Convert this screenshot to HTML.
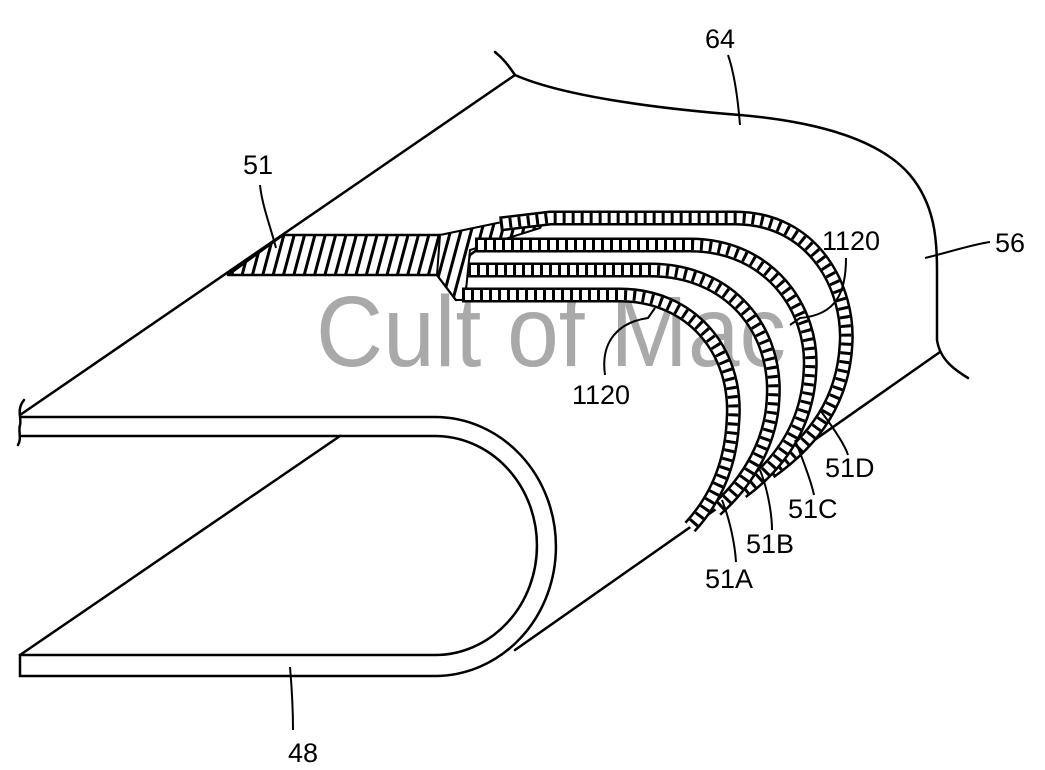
<!DOCTYPE html>
<html><head><meta charset="utf-8"><style>
html,body{margin:0;padding:0;background:#fff}
svg{display:block}
text{font-family:"Liberation Sans",sans-serif}
</style></head><body>
<svg width="1045" height="770" viewBox="0 0 1045 770" xmlns="http://www.w3.org/2000/svg">
<defs>
<pattern id="h" patternUnits="userSpaceOnUse" width="10" height="10" patternTransform="rotate(15)">
<rect width="10" height="10" fill="#fff"/>
<line x1="5" y1="0" x2="5" y2="10" stroke="#000" stroke-width="3"/>
</pattern>
</defs>
<g fill="none" stroke="#000" stroke-width="2.5" stroke-linecap="round">
<line x1="20" y1="415" x2="515" y2="75"/>
<path d="M495 52 C505 60 510 68 515 75 C560 95 650 108 740 115 C820 122 880 140 910 175 C935 205 937 240 937 270 L937 340 C940 360 955 370 968 378"/>
<line x1="515" y1="650" x2="940" y2="352"/>
<path d="M22 417 L435 417 A121 129.5 0 0 1 435 676 L20 676 L20 655 L435 655 A102 109.5 0 0 0 435 436 L22 436"/>
<path d="M24 400 C16 410 22 418 20 425 C18 432 22 438 18 445"/>
<line x1="20" y1="655" x2="340" y2="436"/>
</g>
<text x="316" y="366" font-size="100" fill="#a9a9a9" textLength="470" lengthAdjust="spacingAndGlyphs">Cult of Mac</text>
<polygon points="283,235 485,235 520,218 470,255 460,290 456,300 437,275 228,275" fill="url(#h)" stroke="#000" stroke-width="2.5" stroke-linejoin="round"/>
<polygon points="440,235 550,212 540,228 470,250 465,300 456,300 437,275" fill="url(#h)" stroke="#000" stroke-width="2"/>
<g fill="none" stroke-linecap="butt">
<g id="d">
<path d="M500 224 L550 218 L735 218 C815 218 850 290 846 345 C843 400 815 440 770 472" stroke="#000" stroke-width="15"/>
<path d="M500 224 L550 218 L735 218 C815 218 850 290 846 345 C843 400 815 440 770 472" stroke="#fff" stroke-width="10"/>
<path d="M500 224 L550 218 L735 218 C815 218 850 290 846 345 C843 400 815 440 770 472" stroke="#000" stroke-width="10" stroke-dasharray="3 6"/>
</g>
<path d="M475 245 L690 245 C770 245 814 310 810 370 C808 420 785 460 742 492" stroke="#000" stroke-width="15"/>
<path d="M475 245 L690 245 C770 245 814 310 810 370 C808 420 785 460 742 492" stroke="#fff" stroke-width="10"/>
<path d="M475 245 L690 245 C770 245 814 310 810 370 C808 420 785 460 742 492" stroke="#000" stroke-width="10" stroke-dasharray="3 6"/>

<path d="M468 270 L650 270 C730 270 778 330 773 400 C771 440 750 480 716 510" stroke="#000" stroke-width="15"/>
<path d="M468 270 L650 270 C730 270 778 330 773 400 C771 440 750 480 716 510" stroke="#fff" stroke-width="10"/>
<path d="M468 270 L650 270 C730 270 778 330 773 400 C771 440 750 480 716 510" stroke="#000" stroke-width="10" stroke-dasharray="3 6"/>

<path d="M462 295 L620 295 C690 295 738 350 733 420 C731 465 715 500 690 527" stroke="#000" stroke-width="15"/>
<path d="M462 295 L620 295 C690 295 738 350 733 420 C731 465 715 500 690 527" stroke="#fff" stroke-width="10"/>
<path d="M462 295 L620 295 C690 295 738 350 733 420 C731 465 715 500 690 527" stroke="#000" stroke-width="10" stroke-dasharray="3 6"/>
</g>
<g fill="none" stroke="#000" stroke-width="2">
<path d="M260 185 C262 205 270 225 276 248"/>
<path d="M728 55 C735 75 738 100 740 125"/>
<path d="M925 258 C950 252 970 245 990 242"/>
<path d="M846 258 C846 290 838 315 800 318 L790 325"/>
<path d="M605 375 C600 340 620 322 648 318 L655 308"/>
<path d="M820 410 C835 430 845 445 848 455"/>
<path d="M795 440 C805 465 812 485 814 495"/>
<path d="M760 470 C768 490 772 515 772 530"/>
<path d="M722 500 C730 520 735 545 736 562"/>
<path d="M290 667 C292 690 293 710 293 730"/>
</g>
<g font-size="27" fill="#000">
<text x="243" y="174">51</text>
<text x="705" y="48">64</text>
<text x="995" y="252">56</text>
<text x="822" y="250">1120</text>
<text x="572" y="404">1120</text>
<text x="825" y="477">51D</text>
<text x="788" y="518">51C</text>
<text x="746" y="553">51B</text>
<text x="705" y="588">51A</text>
<text x="288" y="762">48</text>
</g>
</svg>
</body></html>
